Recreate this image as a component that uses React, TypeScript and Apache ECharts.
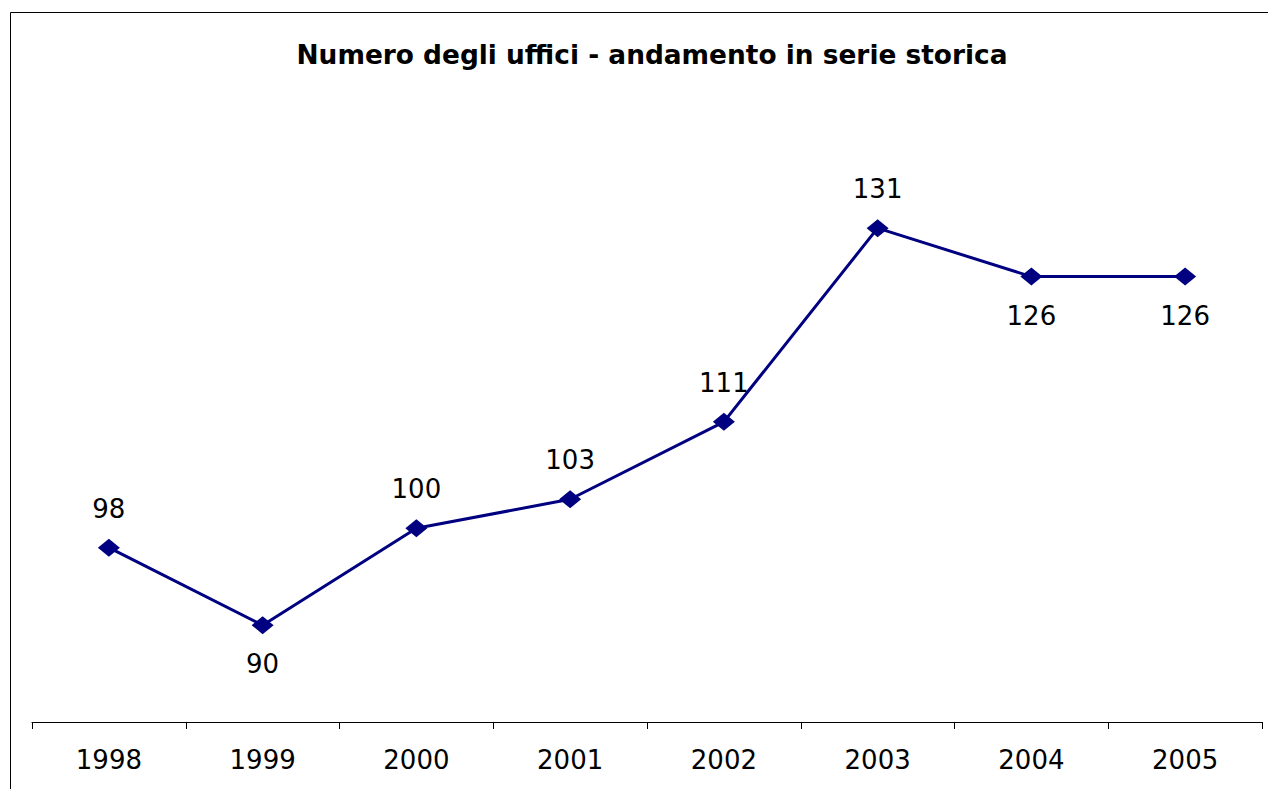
import React, { useEffect, useRef } from "react";
import * as echarts from "echarts";

const TITLE = "Numero degli uffici - andamento in serie storica";
const YEARS = ["1998", "1999", "2000", "2001", "2002", "2003", "2004", "2005"];
const UFFICI = [98, 90, 100, 103, 111, 131, 126, 126];
const LABEL_BELOW = [false, true, false, false, false, false, true, true];

export default function App() {
  const ref = useRef<HTMLDivElement>(null);
  useEffect(() => {
    if (!ref.current) return;
    const chart = echarts.init(ref.current, undefined, { renderer: "svg" });
    const font = "'DejaVu Sans', 'Liberation Sans', Arial, sans-serif";
    chart.setOption({
      animation: false,
      backgroundColor: "#ffffff",
      title: {
        text: TITLE,
        left: 647,
        textAlign: "center",
        top: 36,
        textStyle: { fontFamily: font, fontSize: 26.4, fontWeight: "bold", color: "#000" },
      },
      graphic: [
        {
          type: "rect",
          shape: { x: 10.5, y: 12.5, width: 1300, height: 800 },
          style: { fill: "none", stroke: "#000", lineWidth: 1 },
          silent: true,
          z: 100,
        },
      ],
      grid: { left: 32, right: 6, top: 141, bottom: 67 },
      xAxis: {
        type: "category",
        data: YEARS,
        boundaryGap: true,
        axisLine: { lineStyle: { color: "#000", width: 1 } },
        axisTick: { show: true, length: 7, lineStyle: { color: "#000" } },
        axisLabel: { fontFamily: font, fontSize: 26, color: "#000", margin: 25 },
        splitLine: { show: false },
      },
      yAxis: {
        type: "value",
        min: 80,
        max: 140,
        show: false,
        splitLine: { show: false },
      },
      series: [
        {
          type: "line",
          data: UFFICI.map((v, i) => ({
            value: v,
            label: { position: LABEL_BELOW[i] ? "bottom" : "top" },
          })),
          symbol: "diamond",
          symbolSize: [22, 18],
          lineStyle: { color: "#000080", width: 3 },
          itemStyle: { color: "#000080" },
          label: {
            show: true,
            distance: 17,
            fontFamily: font,
            fontSize: 26,
            color: "#000",
          },
        },
      ],
    });
    return () => chart.dispose();
  }, []);
  return (
    <div
      ref={ref}
      style={{ position: "fixed", left: 0, top: 0, width: 1268, height: 789, background: "#fff" }}
    />
  );
}
